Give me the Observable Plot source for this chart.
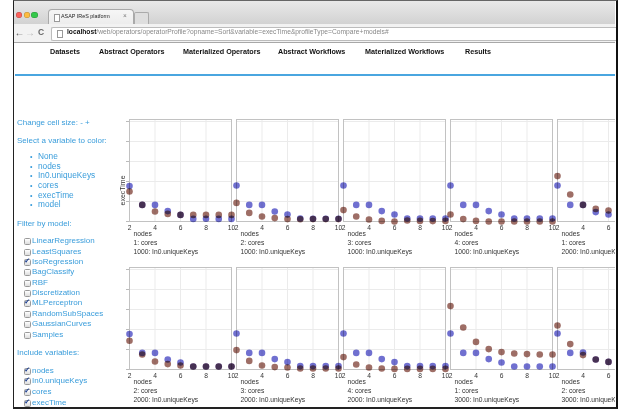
<!DOCTYPE html>
<html><head><meta charset="utf-8">
<script src="https://cdn.jsdelivr.net/npm/d3@7"></script>
<script src="https://cdn.jsdelivr.net/npm/@observablehq/plot@0.6"></script>
<style>
html,body{margin:0;padding:0;background:#fff;width:622px;height:412px;overflow:hidden;font-family:"Liberation Sans",Arial,Helvetica,sans-serif;}
.a{position:absolute;white-space:nowrap;line-height:1;}
#chart{position:absolute;left:14px;top:77px;width:601px;height:328px;overflow:hidden;}
#chart svg{position:absolute;left:99px;top:38px;}
</style></head>
<body>
<div id="root"></div>
<div id="chart"></div>
<script>
// ---- data ----
const nodes = [2, 3, 4, 5, 6, 7, 8, 9, 10];
const panelCores = [1, 2, 3, 4, 1, 2, 3, 4, 1, 2];
const panelKeys = [1000, 1000, 1000, 1000, 2000, 2000, 2000, 2000, 3000, 3000];
const models = ["IsoRegression", "MLPerceptron"];
const isoRegressionTime = [
  [1.77, 0.83, 0.83, 0.52, 0.33, 0.13, 0.14, 0.13, 0.13],
  [1.80, 0.83, 0.83, 0.50, 0.35, 0.15, 0.14, 0.14, 0.14],
  [1.80, 0.83, 0.83, 0.52, 0.35, 0.15, 0.15, 0.15, 0.15],
  [1.80, 0.83, 0.83, 0.52, 0.35, 0.15, 0.15, 0.15, 0.15],
  [1.80, 0.83, 0.83, 0.47, 0.35, null, null, null, null],
  [1.77, 0.83, 0.83, 0.50, 0.35, 0.15, 0.15, 0.15, 0.15],
  [1.80, 0.83, 0.83, 0.52, 0.37, 0.17, 0.17, 0.17, 0.17],
  [1.80, 0.83, 0.83, 0.52, 0.37, 0.17, 0.17, 0.17, 0.17],
  [1.80, 0.83, 0.83, 0.52, 0.35, 0.15, 0.15, 0.15, 0.15],
  [1.80, 0.83, 0.85, 0.50, 0.38, null, null, null, null]
];
const mlPerceptronTime = [
  [1.50, 0.83, 0.50, 0.38, 0.33, 0.33, 0.33, 0.33, 0.33],
  [0.93, 0.43, 0.25, 0.17, 0.12, 0.11, 0.12, 0.12, 0.12],
  [0.57, 0.25, 0.10, 0.03, 0.00, 0.05, 0.03, 0.02, 0.03],
  [0.35, 0.12, 0.03, 0.00, 0.00, 0.00, 0.00, 0.00, 0.00],
  [2.27, 1.35, 0.83, 0.63, 0.55, null, null, null, null],
  [1.44, 0.75, 0.40, 0.27, 0.20, 0.15, 0.15, 0.15, 0.15],
  [0.97, 0.43, 0.20, 0.12, 0.10, 0.05, 0.05, 0.05, 0.05],
  [0.62, 0.25, 0.10, 0.05, 0.03, 0.03, 0.03, 0.03, 0.03],
  [3.17, 2.10, 1.38, 1.02, 0.87, 0.80, 0.77, 0.75, 0.75],
  [2.20, 1.27, 0.72, 0.50, 0.38, null, null, null, null]
];
const xTicks = [2, 4, 6, 8, 10];
const yTicks = [0, 1, 2, 3, 4, 5];
const navItems = ["Datasets", "Abstract Operators", "Materialized Operators", "Abstract Workflows", "Materialized Workflows", "Results"];
const colorVars = ["None", "nodes", "In0.uniqueKeys", "cores", "execTime", "model"];
const modelFilters = ["LinearRegression", "LeastSquares", "IsoRegression", "BagClassify", "RBF", "Discretization", "MLPerceptron", "RandomSubSpaces", "GaussianCurves", "Samples"];
const checkedModels = ["IsoRegression", "MLPerceptron"];
const includeVars = ["nodes", "In0.uniqueKeys", "cores", "execTime"];
const url = "/web/operators/operatorProfile?opname=Sort&variable=execTime&profileType=Compare+models#";

// ---- page chrome ----
const root = document.getElementById("root");
function box(css) { const d = document.createElement("div"); d.className = "a"; d.style.cssText = css; root.appendChild(d); return d; }
function txt(t, x, yc, size, css = "") { const d = box(`left:${x}px;top:${yc - size / 2 - 0.5}px;font-size:${size}px;${css}`); d.textContent = t; return d; }

// window frame
box("left:13px;top:0;width:602px;height:406px;border-left:1px solid #222;border-right:2px solid #111;border-top:1px solid #666;border-bottom:2px solid #222;");
// title bar
box("left:14px;top:1px;width:601px;height:23px;background:linear-gradient(#e9e9e9,#d2d2d2);");
// traffic lights
[["#fc605b", 19], ["#fdbc40", 27], ["#34c84a", 34.5]].forEach(([c, x]) => box(`left:${x - 3.3}px;top:${15 - 3.3}px;width:6.6px;height:6.6px;border-radius:50%;background:${c};box-shadow:inset 0 0 0 0.5px rgba(0,0,0,0.25)`));
// tab
box("left:48px;top:9px;width:84px;height:15px;background:linear-gradient(#f6f6f6,#ececec);border:1px solid #a9a9a9;border-bottom:none;border-radius:4px 4px 0 0;");
box("left:54px;top:13.5px;width:4px;height:6px;border:0.6px solid #999;background:#fff;");
txt("ASAP IReS platform", 61, 17, 5.4, "color:#222");
txt("×", 123, 17, 6.5, "color:#777");
box("left:134px;top:12px;width:13px;height:11px;background:#dedede;border:1px solid #aaa;border-bottom:none;border-radius:2px 2px 0 0;");
// address bar
box("left:14px;top:24px;width:601px;height:18px;background:#f2f2f2;border-bottom:1px solid #a8a8a8;");
txt("←", 14.5, 33, 10, "color:#555");
txt("→", 25, 33, 10, "color:#bbb");
txt("C", 38, 33, 8.5, "color:#666;font-weight:bold");
box("left:51px;top:27px;width:564px;height:12px;background:#fff;border:1px solid #bcbcbc;border-right:none;border-radius:2px 0 0 2px;");
box("left:57px;top:29.5px;width:4px;height:6px;border:0.6px solid #999;background:#fff;");
const u = txt("", 67, 33, 6.7, "color:#888");
u.innerHTML = '<span style="color:#111;font-weight:bold">localhost</span>' + url;
// nav
const navX = [50, 99, 183, 278, 365, 465];
navItems.forEach((t, i) => txt(t, navX[i], 52, 7.2, "font-weight:bold;color:#111"));
box("left:15px;top:74px;width:600px;height:2px;background:#4aa6e0;");

// sidebar
const blue = "#3a9ddb";
txt("Change cell size: - +", 17, 123, 8, `color:${blue}`);
txt("Select a variable to color:", 17, 141, 8, `color:${blue}`);
const cvY = [157, 167, 176, 186, 196, 205];
colorVars.forEach((t, i) => { txt("•", 30, cvY[i], 7, `color:${blue}`); txt(t, 38, cvY[i], 8.3, `color:${blue}`); });
txt("Filter by model:", 17, 224, 8, `color:${blue}`);
function checkbox(x, yc, on) {
  box(`left:${x}px;top:${yc - 3}px;width:5px;height:5px;border:0.7px solid #999;border-radius:1.5px;background:linear-gradient(#fff,#ddd);`);
  if (on) txt("✔", x + 0.3, yc - 0.5, 7, "color:#1c3e8e;font-family:'DejaVu Sans'");
}
const mfY = [241, 252, 262, 272, 283, 293, 303, 314, 324, 335];
modelFilters.forEach((t, i) => { checkbox(24, mfY[i], checkedModels.includes(t)); txt(t, 32, mfY[i], 8, `color:${blue}`); });
txt("Include variables:", 17, 353, 8, `color:${blue}`);
const ivY = [371, 381, 392, 403];
includeVars.forEach((t, i) => { checkbox(24, ivY[i], true); txt(t, 32, ivY[i], 8, `color:${blue}`); });

// ---- chart ----
const dots = [];
const panels = [];
panelCores.forEach((c, i) => {
  const col = i % 5, row = Math.floor(i / 5);
  panels.push({ col, row, cores: c, keys: panelKeys[i] });
  nodes.forEach((n, j) => {
    dots.push({ col, row, nodes: n, execTime: isoRegressionTime[i][j], model: models[0] });
    dots.push({ col, row, nodes: n, execTime: mlPerceptronTime[i][j], model: models[1] });
  });
});
const yLabel = [{ col: 0, row: 0, v: 0.8, label: "execTime" }];

const plot = Plot.plot({
  width: 556, height: 290,
  marginLeft: 16, marginRight: 10, marginTop: 4, marginBottom: 36,
  style: { fontFamily: "'Liberation Sans', Arial, sans-serif", fontSize: "6.7px", color: "#333", background: "transparent" },
  fx: { domain: [0, 1, 2, 3, 4], axis: null, paddingInner: 5 / 107, paddingOuter: 0, round: false },
  fy: { domain: [0, 1], axis: null, paddingInner: 46 / 148, paddingOuter: 0, round: false },
  x: { domain: [2, 10] },
  y: { domain: [0, 5.1] },
  color: { domain: models, range: ["#7070d0", "#9e6e66"] },
  marks: [
    Plot.gridX({ ticks: [4, 6, 8], stroke: "#ebebeb", strokeOpacity: 1 }),
    Plot.gridY({ ticks: [1, 2, 3, 4, 5], stroke: "#ebebeb", strokeOpacity: 1 }),
    Plot.frame({ stroke: "#c2c2c2" }),
    Plot.axisX({ ticks: xTicks, tickSize: 0, tickPadding: 4, label: null, facetAnchor: null }),
    Plot.axisY({ ticks: yTicks, tickSize: 3, tickFormat: () => "", label: null, stroke: "#bbb" }),
    Plot.dot(dots, { fx: "col", fy: "row", x: "nodes", y: "execTime", fill: "model", r: 3.3, mixBlendMode: "multiply" }),
    Plot.text(panels, { fx: "col", fy: "row", frameAnchor: "bottom-left", textAnchor: "start", lineAnchor: "top", dx: 4, dy: 8.5, lineHeight: 1.34,
      text: d => `nodes\n${d.cores}: cores\n${d.keys}: In0.uniqueKeys`, fill: "#333" }),
    Plot.text(yLabel, { fx: "col", fy: "row", frameAnchor: "left", y: "v", rotate: -90, dx: -7, text: "label", fontSize: 7, fill: "#333" })
  ]
});
document.getElementById("chart").appendChild(plot);
</script>
</body></html>
